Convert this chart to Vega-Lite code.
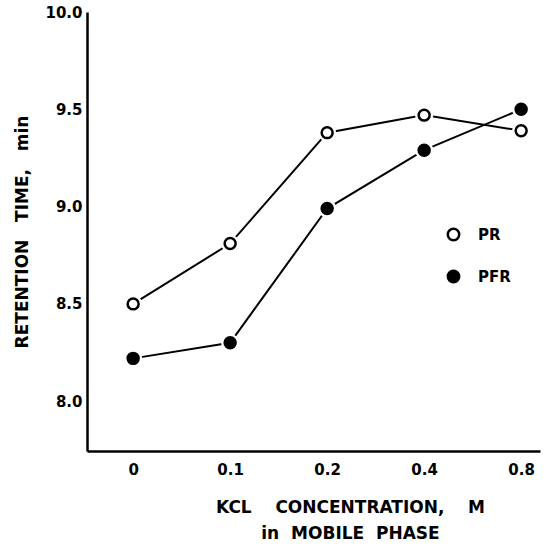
{
  "$schema": "https://vega.github.io/schema/vega-lite/v6.json",
  "autosize": "none",
  "width": 453,
  "height": 439,
  "padding": {"left": 87, "top": 12, "right": 7, "bottom": 95},
  "background": "white",
  "config": {
    "view": {"stroke": null},
    "font": "DejaVu Sans",
    "axis": {
      "grid": false,
      "domainColor": "black",
      "domainWidth": 2.5,
      "labelColor": "black",
      "labelFont": "DejaVu Sans",
      "labelFontWeight": "bold",
      "labelFontSize": 15,
      "titleColor": "black",
      "titleFont": "DejaVu Sans",
      "titleFontWeight": "bold",
      "titleFontSize": 17
    }
  },
  "data": {
    "values": [
      {"conc": "0", "series": "PR", "time": 8.50},
      {"conc": "0.1", "series": "PR", "time": 8.81},
      {"conc": "0.2", "series": "PR", "time": 9.38},
      {"conc": "0.4", "series": "PR", "time": 9.47},
      {"conc": "0.8", "series": "PR", "time": 9.39},
      {"conc": "0", "series": "PFR", "time": 8.22},
      {"conc": "0.1", "series": "PFR", "time": 8.30},
      {"conc": "0.2", "series": "PFR", "time": 8.99},
      {"conc": "0.4", "series": "PFR", "time": 9.29},
      {"conc": "0.8", "series": "PFR", "time": 9.50}
    ]
  },
  "encoding": {
    "x": {
      "field": "conc",
      "type": "ordinal",
      "sort": ["0", "0.1", "0.2", "0.4", "0.8"],
      "scale": {"type": "point", "padding": 0.335, "align": 0.71},
      "axis": {
        "ticks": false,
        "labelAngle": 0,
        "labelPadding": 11,
        "title": ["KCL\u00a0\u00a0\u00a0\u00a0CONCENTRATION,\u00a0\u00a0\u00a0\u00a0M", "in\u00a0\u00a0MOBILE\u00a0\u00a0PHASE"],
        "titleLineHeight": 26,
        "titleX": 263,
        "titlePadding": 22
      }
    },
    "y": {
      "field": "time",
      "type": "quantitative",
      "scale": {"domain": [7.744, 10.0], "nice": false, "zero": false},
      "axis": {
        "ticks": false,
        "values": [8.0, 8.5, 9.0, 9.5, 10.0],
        "format": ".1f",
        "labelPadding": 5,
        "title": "RETENTION\u00a0\u00a0\u00a0TIME,\u00a0\u00a0\u00a0min",
        "titlePadding": 13
      }
    }
  },
  "layer": [
    {
      "mark": {"type": "line", "color": "black", "strokeWidth": 2},
      "encoding": {"detail": {"field": "series"}}
    },
    {
      "mark": {"type": "point", "filled": true, "shape": "circle", "size": 330, "color": "white", "opacity": 1}
    },
    {
      "mark": {"type": "point", "filled": true, "shape": "circle", "size": 120, "stroke": "black", "strokeWidth": 2.5, "opacity": 1},
      "encoding": {
        "fill": {
          "field": "series",
          "type": "nominal",
          "scale": {"domain": ["PR", "PFR"], "range": ["white", "black"]},
          "legend": {
            "title": null,
            "orient": "none",
            "legendX": 359,
            "legendY": 215,
            "symbolType": "circle",
            "symbolSize": 130,
            "symbolStrokeColor": "black",
            "symbolStrokeWidth": 2.5,
            "symbolOpacity": 1,
            "labelFont": "DejaVu Sans",
            "labelFontWeight": "bold",
            "labelFontSize": 15,
            "labelColor": "black",
            "labelOffset": 17,
            "rowPadding": 19
          }
        }
      }
    }
  ]
}
